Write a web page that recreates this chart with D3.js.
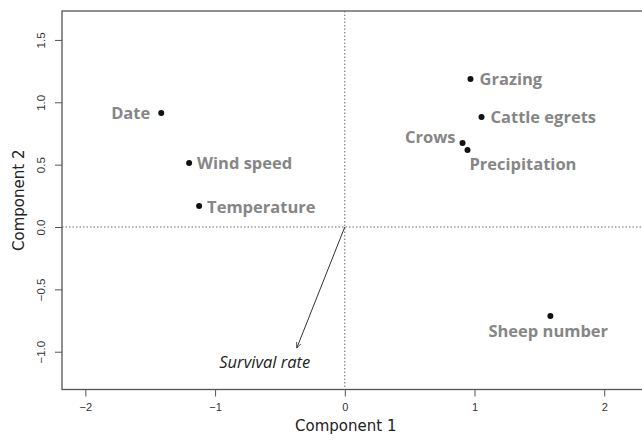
<!DOCTYPE html>
<html><head><meta charset="utf-8">
<script src="https://cdn.jsdelivr.net/npm/d3@7/dist/d3.min.js"></script>
<style>body{margin:0;background:#fff;} svg{display:block;}</style>
</head><body><svg id="c" width="642" height="440"></svg>
<script>
const labels = ["Date","Wind speed","Temperature","Grazing","Cattle egrets","Crows","Precipitation","Sheep number"];
const comp1  = [-1.415,-1.20,-1.123,0.969,1.054,0.908,0.946,1.585];
const comp2  = [0.914,0.513,0.168,1.187,0.882,0.674,0.617,-0.714];
const arrowLabel = "Survival rate";
const arrowEnd = [-0.37,-0.97];
const xTicks = [-2,-1,0,1,2];
const yTicks = [-1.0,-0.5,0.0,0.5,1.0,1.5];

const svg = d3.select("#c");
const L=62, T=11, B=389.5, R=660;
const x = d3.scaleLinear().domain([-2.18,2.43]).range([L,R]);
const y = d3.scaleLinear().domain([-1.303,1.732]).range([B,T]);

// box
svg.append("rect").attr("x",L).attr("y",T).attr("width",R-L).attr("height",B-T)
  .attr("fill","none").attr("stroke","#555").attr("stroke-width",1.3);

// reference lines
svg.append("line").attr("x1",L).attr("x2",R).attr("y1",y(0)).attr("y2",y(0))
  .attr("stroke","#666").attr("stroke-dasharray","1.5,2").attr("stroke-width",1);
svg.append("line").attr("x1",x(0)).attr("x2",x(0)).attr("y1",T).attr("y2",B)
  .attr("stroke","#666").attr("stroke-dasharray","1.5,2").attr("stroke-width",1);

// axes
const xAxis = d3.axisBottom(x).tickValues(xTicks).tickSize(7).tickPadding(7).tickFormat(d3.format("d"));
const gx = svg.append("g").attr("transform",`translate(0,${B})`).call(xAxis);
gx.select(".domain").remove();
gx.selectAll("line").attr("stroke","#555");
gx.selectAll("text").attr("font-family","Liberation Sans, Arial, sans-serif").attr("font-size",11).attr("fill","#333");

const yAxis = d3.axisLeft(y).tickValues(yTicks).tickSize(7).tickFormat(d3.format(".1f"));
const gy = svg.append("g").attr("transform",`translate(${L},0)`).call(yAxis);
gy.select(".domain").remove();
gy.selectAll("line").attr("stroke","#555");
gy.selectAll("text")
  .attr("font-family","Liberation Sans, Arial, sans-serif").attr("font-size",11.5).attr("fill","#333")
  .attr("x",null).attr("dy",null)
  .attr("text-anchor","middle")
  .attr("transform","translate(-17,0) rotate(-90)");

// axis titles
svg.append("text").attr("x",x(0)+1).attr("y",431).attr("text-anchor","middle")
  .attr("font-family","DejaVu Sans, sans-serif").attr("font-size",15).attr("fill","#222").text("Component 1");
svg.append("text").attr("transform",`translate(24,${(T+B)/2}) rotate(-90)`).attr("text-anchor","middle")
  .attr("font-family","DejaVu Sans, sans-serif").attr("font-size",15).attr("fill","#222").text("Component 2");

// arrow
svg.append("defs").append("marker").attr("id","ah").attr("viewBox","0 0 10 10")
  .attr("refX",9).attr("refY",5).attr("markerWidth",6).attr("markerHeight",6).attr("orient","auto")
  .append("path").attr("d","M0,1 L9,5 L0,9").attr("fill","none").attr("stroke","#333").attr("stroke-width",1.3);
svg.append("line").attr("x1",x(0)).attr("y1",y(0)).attr("x2",x(arrowEnd[0])).attr("y2",y(arrowEnd[1]))
  .attr("stroke","#333").attr("stroke-width",1).attr("marker-end","url(#ah)");
svg.append("text").attr("x",x(arrowEnd[0])-32).attr("y",y(arrowEnd[1])+20).attr("text-anchor","middle")
  .attr("font-family","Open Sans, sans-serif").attr("font-style","italic").attr("font-size",16.5).attr("fill","#222")
  .text(arrowLabel);

// points
const data = labels.map((l,i)=>({l, a:comp1[i], b:comp2[i]}));
svg.selectAll("circle.pt").data(data).enter().append("circle").attr("class","pt")
  .attr("cx",d=>x(d.a)).attr("cy",d=>y(d.b)).attr("r",3).attr("fill","#111");

// label placement offsets (dx, dy, anchor)
const place = {
  "Date":[-11,6,"end"],
  "Wind speed":[8,6,"start"],
  "Temperature":[8,7,"start"],
  "Grazing":[9,6,"start"],
  "Cattle egrets":[9,6,"start"],
  "Crows":[-7,0,"end"],
  "Precipitation":[2,20,"start"],
  "Sheep number":[-62,21,"start"]
};
svg.selectAll("text.lab").data(data).enter().append("text").attr("class","lab")
  .attr("x",d=>x(d.a)+place[d.l][0]).attr("y",d=>y(d.b)+place[d.l][1])
  .attr("text-anchor",d=>place[d.l][2])
  .attr("font-family","Open Sans, sans-serif").attr("font-weight","bold").attr("font-size",16.5)
  .attr("fill","#868686").text(d=>d.l);
</script></body></html>
